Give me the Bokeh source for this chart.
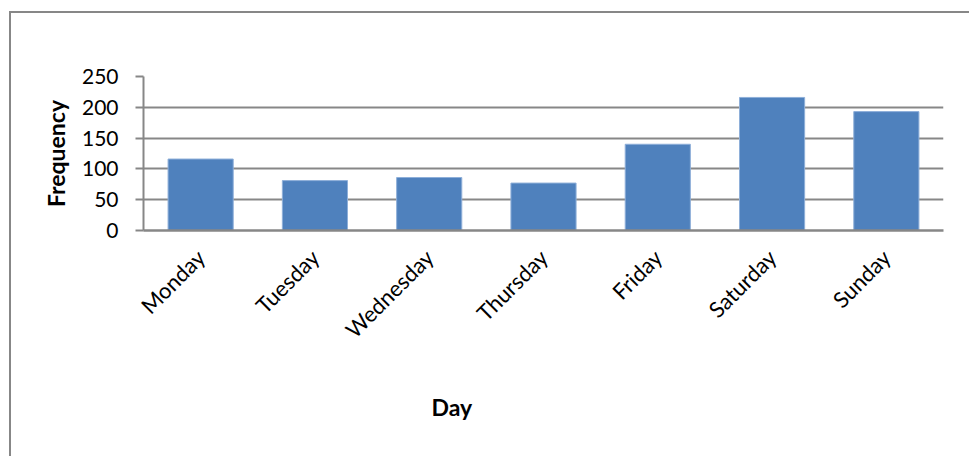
import math
from bokeh.plotting import figure
from bokeh.models import FixedTicker, Title, ColumnDataSource
from bokeh.embed import file_html
from bokeh.resources import INLINE

days = ["Monday", "Tuesday", "Wednesday", "Thursday", "Friday", "Saturday", "Sunday"]
frequency = [116, 81, 86, 77, 140, 216, 193]
y_ticks = [0, 50, 100, 150, 200, 250]

FONT = "Lato"
GRAY = "#878787"

src = ColumnDataSource(dict(day=days, freq=frequency))

p = figure(x_range=days, y_range=(0, 250), width=960, height=445,
           output_backend="svg", toolbar_location=None,
           min_border_left=132, min_border_right=28, min_border_top=63, min_border_bottom=228)
p.styles = {"border-left": "2px solid " + GRAY, "border-top": "2px solid " + GRAY,
            "margin-left": "9px", "margin-top": "11px"}
p.outline_line_color = None
p.background_fill_color = "white"
p.border_fill_color = "white"

p.vbar(x="day", top="freq", width=0.57, source=src,
       fill_color="#4F81BD", line_color="#8EAFD9", line_width=1)

p.xgrid.grid_line_color = None
p.ygrid.grid_line_color = GRAY
p.ygrid.grid_line_width = 2
p.yaxis.ticker = FixedTicker(ticks=y_ticks)
p.yaxis.minor_tick_line_color = None
p.yaxis.major_tick_out = 8
p.yaxis.major_tick_in = 0
p.yaxis.major_tick_line_color = GRAY
p.yaxis.major_tick_line_width = 2
p.yaxis.axis_line_color = GRAY
p.yaxis.axis_line_width = 2
p.yaxis.major_label_text_font = FONT
p.yaxis.major_label_text_font_size = "21px"
p.yaxis.major_label_text_color = "black"
p.yaxis.major_label_standoff = 17
p.yaxis.axis_label = "Frequency"
p.yaxis.axis_label_text_font = FONT
p.yaxis.axis_label_text_font_style = "bold"
p.yaxis.axis_label_text_font_size = "23px"
p.yaxis.axis_label_text_color = "black"
p.yaxis.axis_label_standoff = 9

p.xaxis.major_tick_line_color = None
p.xaxis.minor_tick_line_color = None
p.xaxis.axis_line_color = GRAY
p.xaxis.axis_line_width = 2.5
p.xaxis.major_label_orientation = math.pi / 4
p.xaxis.major_label_text_font = FONT
p.xaxis.major_label_text_font_size = "22px"
p.xaxis.major_label_text_color = "black"
p.xaxis.major_label_standoff = 17

p.add_layout(Title(text="Day", align="left", offset=288, standoff=71,
                   text_font=FONT, text_font_style="bold", text_font_size="23px",
                   text_color="black"), "below")

open("out.html", "w").write(file_html(p, INLINE))
